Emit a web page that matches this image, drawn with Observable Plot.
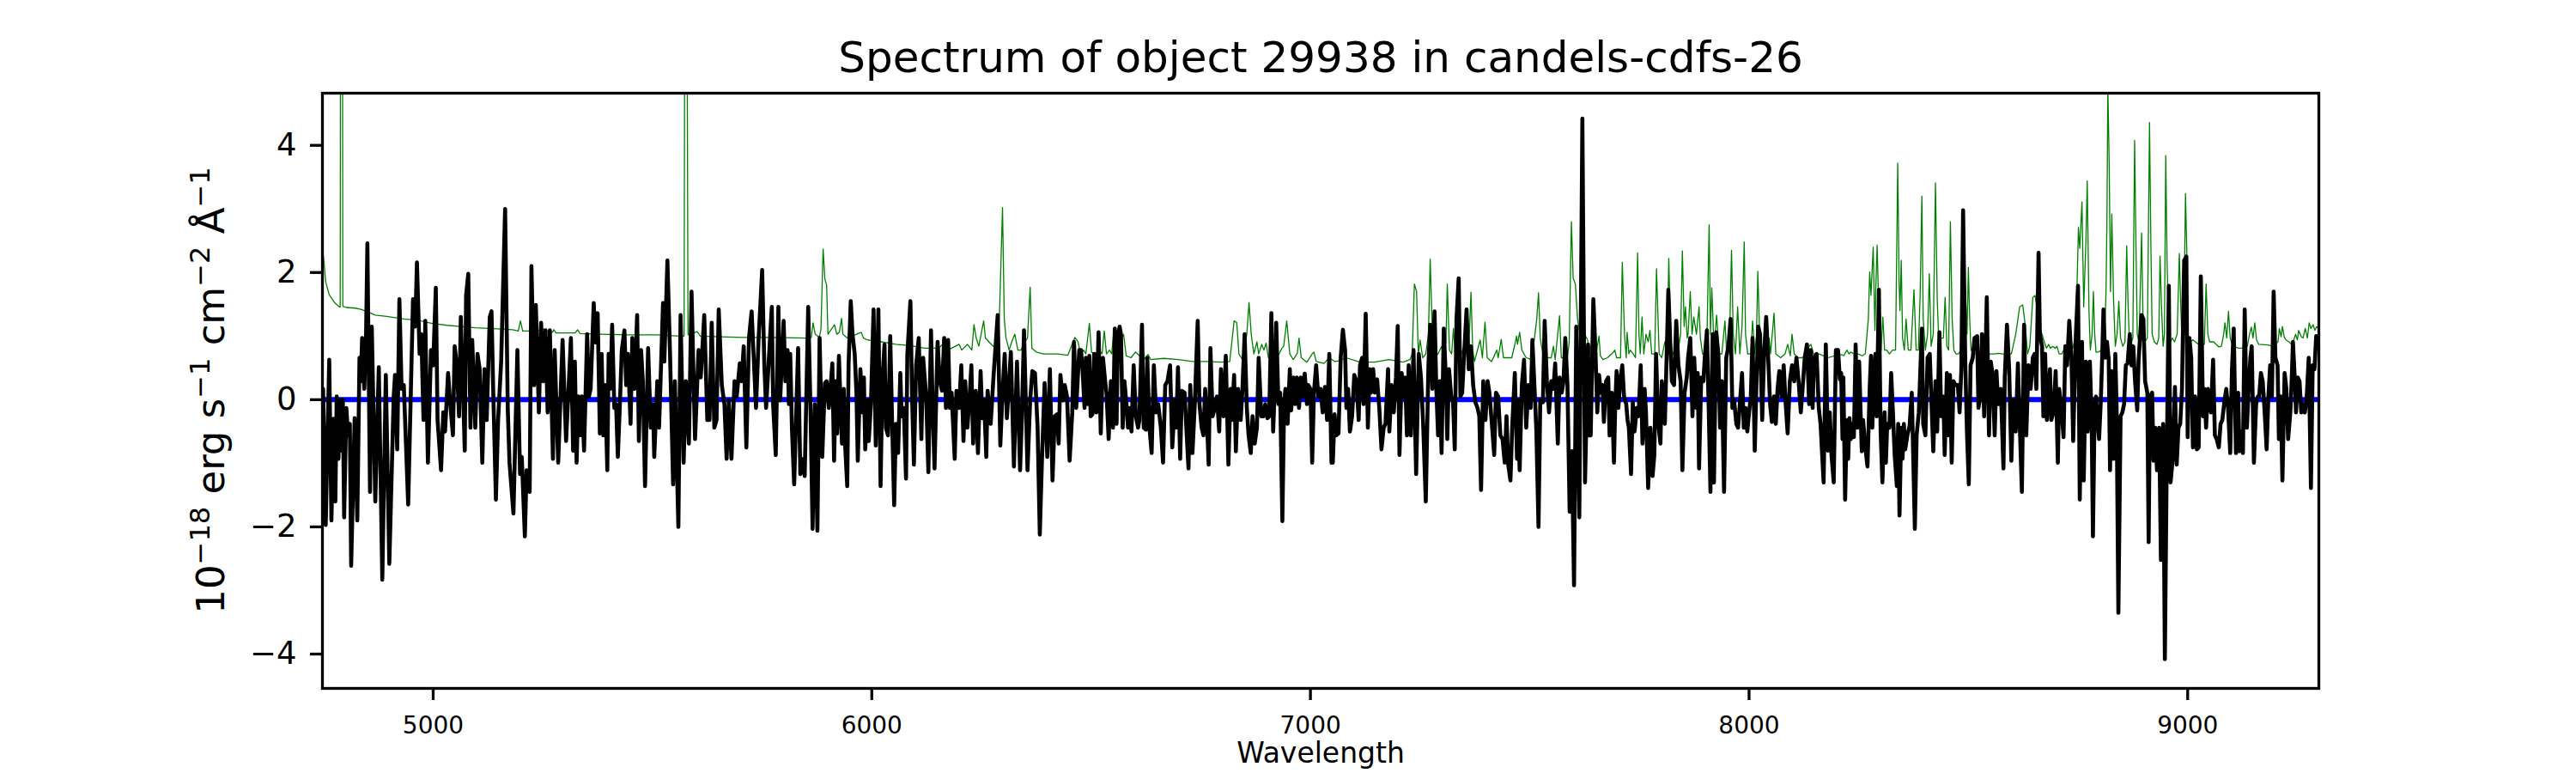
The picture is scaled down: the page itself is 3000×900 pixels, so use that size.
<!DOCTYPE html>
<html><head><meta charset="utf-8">
<script src="https://cdn.jsdelivr.net/npm/d3@7"></script>
<script src="https://cdn.jsdelivr.net/npm/@observablehq/plot@0.6"></script>
<style>body{margin:0;background:#fff} svg{font-family:"DejaVu Sans"}</style>
</head><body><div id="chart"></div>
<script>
const titleText = "Spectrum of object 29938 in candels-cdfs-26";
const xLabel = "Wavelength";
const xTicks = [5000, 6000, 7000, 8000, 9000];
const yTicks = [-4, -2, 0, 2, 4];
const xRange = [4747.5, 9299];
const yRange = [-4.54, 4.82];
const zeroLevel = 0;

// object spectrum: [wavelength (Å), flux (1e-18 erg/s/cm2/Å)]
const objectFlux = [
[4748,-1.0],[4749,0.17],[4755,-1.97],[4763,0.63],[4768,-1.9],[4773,-0.3],[4777,-1.6],[4780,0.05],[4784,-0.93],[4788,0.0],[4792,-0.8],[4794,0.0],[4797,-1.85],[4802,-0.13],[4806,-0.56],[4810,-0.38],[4813,-2.61],[4821,-0.29],[4827,-1.9],[4832,0.66],[4835,0.29],[4838,0.97],[4843,0.17],[4847,1.03],[4850,2.46],[4856,-1.45],[4860,1.15],[4868,-1.6],[4876,0.51],[4884,-2.83],[4892,0.39],[4900,-2.58],[4910,0.05],[4913,0.39],[4918,-0.78],[4923,1.58],[4928,0.17],[4933,0.23],[4943,-1.65],[4954,1.58],[4959,1.15],[4963,2.16],[4969,0.72],[4973,1.03],[4978,-0.32],[4982,1.24],[4988,-0.99],[4995,0.78],[5000,0.54],[5006,1.76],[5010,-0.32],[5018,-1.11],[5023,-0.2],[5027,-0.5],[5034,0.42],[5039,-0.07],[5045,-0.56],[5049,0.84],[5054,0.54],[5059,-0.26],[5063,1.3],[5068,0.17],[5072,-0.8],[5075,1.64],[5080,1.98],[5085,-0.44],[5089,0.94],[5096,-0.44],[5101,0.72],[5106,0.48],[5112,-0.99],[5117,0.48],[5122,-0.32],[5129,1.3],[5133,1.39],[5137,0.11],[5143,-1.57],[5148,-0.32],[5155,0.6],[5164,3.0],[5170,-0.13],[5174,-0.99],[5183,-1.79],[5192,0.78],[5198,-1.17],[5202,-0.9],[5209,-2.15],[5213,-1.11],[5220,-1.45],[5224,2.1],[5230,0.23],[5234,1.49],[5241,-0.2],[5246,1.21],[5251,0.29],[5256,1.09],[5261,-0.2],[5266,1.09],[5273,-0.93],[5277,0.78],[5285,-0.99],[5295,0.94],[5303,-0.65],[5314,0.97],[5319,-0.8],
[5323,0.6],[5327,-0.99],[5331,0.05],[5335,-0.56],[5339,0.05],[5344,-0.8],[5351,1.03],[5355,0.05],[5359,0.17],[5366,1.52],[5370,0.9],[5375,1.36],[5380,-0.53],[5384,0.72],[5388,-0.56],[5392,0.23],[5397,-1.11],[5400,0.72],[5404,0.17],[5408,1.18],[5413,-0.13],[5417,-0.07],[5421,-0.9],[5426,-0.01],[5430,0.78],[5436,1.09],[5440,0.23],[5444,0.72],[5450,-0.38],[5454,0.97],[5459,0.17],[5465,1.33],[5469,-0.65],[5474,0.78],[5478,0.29],[5483,-1.36],[5490,0.81],[5496,-0.44],[5501,-0.07],[5504,-0.9],[5511,0.29],[5515,-0.44],[5524,1.52],[5527,0.6],[5534,2.19],[5540,0.72],[5547,-1.33],[5551,0.29],[5559,-2.0],[5564,1.33],[5571,-0.99],[5576,0.29],[5583,-0.69],[5589,1.7],[5597,-0.62],[5605,0.78],[5610,0.35],[5618,1.33],[5625,-0.32],[5630,-0.32],[5635,1.21],[5641,-0.44],[5646,-0.32],[5651,1.42],[5658,0.23],[5664,-0.07],[5669,-0.93],[5674,-0.01],[5680,-0.93],[5687,0.29],[5692,0.05],[5699,0.57],[5703,0.29],[5708,0.84],[5714,-0.75],[5720,0.97],[5726,1.39],[5736,-0.13],[5742,0.97],[5750,2.04],[5755,0.54],[5759,-0.13],[5772,1.46],[5775,-0.07],[5781,-0.87],[5787,1.46],[5791,-0.01],[5799,1.24],[5803,0.29],[5808,0.78],[5811,-0.07],[5814,0.72],[5818,-0.47],[5823,-1.33],[5832,0.81],[5837,-1.17],[5840,-0.93],[5847,-1.2],[5855,1.46],[5860,-0.07],[5865,-2.03],[5870,-0.07],[5876,-2.06],[5881,0.97],[5887,-0.9],[5893,0.26],
[5897,0.29],[5902,-0.13],[5905,0.11],[5910,0.57],[5914,-0.96],[5918,0.29],[5921,-0.53],[5925,0.69],[5929,-0.13],[5932,-0.69],[5936,0.17],[5939,-0.69],[5944,-1.36],[5947,0.54],[5952,1.55],[5956,1.03],[5961,0.72],[5965,0.11],[5968,-0.96],[5974,0.48],[5979,-0.2],[5982,0.35],[5985,-0.78],[5990,-0.01],[5993,-0.65],[5998,-0.07],[6004,1.42],[6009,-0.72],[6015,1.42],[6020,-1.36],[6024,0.29],[6029,0.87],[6032,-0.44],[6037,-0.56],[6042,1.0],[6046,-0.26],[6051,-1.66],[6055,-0.38],[6060,-0.84],[6065,0.42],[6068,-0.26],[6073,-0.13],[6078,-1.24],[6081,0.72],[6088,1.55],[6092,-0.01],[6096,-1.02],[6101,0.54],[6107,0.97],[6113,-0.62],[6117,0.66],[6124,0.05],[6129,-1.14],[6135,1.09],[6139,-0.2],[6143,-1.08],[6150,0.91],[6155,0.29],[6160,0.14],[6165,0.97],[6169,-0.13],[6174,0.94],[6178,-0.13],[6182,0.11],[6189,-0.93],[6193,0.14],[6199,-0.13],[6204,0.54],[6209,-0.65],[6213,0.29],[6218,-0.44],[6223,0.05],[6227,0.54],[6231,-0.69],[6237,0.14],[6242,-0.84],[6248,0.45],[6252,-0.29],[6256,-0.01],[6261,-0.9],[6264,0.14],[6271,-0.38],[6278,0.42],[6287,1.33],[6293,-0.72],[6298,0.11],[6303,0.72],[6308,-0.29],[6313,0.29],[6317,0.75],[6324,-1.05],[6331,0.6],[6338,-1.11],[6342,-0.32],[6347,1.09],[6355,-1.11],[6361,-0.01],[6366,0.45],[6372,0.42],[6378,-0.44],[6383,-2.12],[6388,-0.93],[6394,0.26],[6400,-0.9],[6406,0.48],[6412,-1.27],[6417,-0.26],[6422,-0.23],[6426,-0.69],[6430,0.39],[6436,-0.01],[6440,0.23],[6445,0.05],[6451,-0.96],[6457,-0.2],[6461,0.91],[6466,-0.13],[6473,0.78],
[6477,0.78],[6481,0.41],[6485,-0.13],[6488,0.66],[6493,-0.07],[6496,0.69],[6499,-0.26],[6503,-0.23],[6507,0.72],[6512,-0.2],[6517,1.06],[6522,-0.53],[6527,0.66],[6532,0.29],[6535,0.11],[6540,-0.62],[6545,0.29],[6550,-0.44],[6554,1.12],[6558,-0.38],[6561,0.99],[6565,1.15],[6568,1.03],[6572,-0.44],[6576,0.29],[6581,-0.1],[6584,-0.44],[6587,-0.13],[6592,-0.5],[6597,0.54],[6602,-0.26],[6607,-0.44],[6610,-0.32],[6616,1.18],[6620,-0.44],[6625,-0.47],[6628,0.66],[6633,-0.44],[6638,-0.84],[6643,0.54],[6648,-0.2],[6653,-0.07],[6659,-0.44],[6664,-0.99],[6669,0.23],[6674,0.29],[6680,0.54],[6685,-0.75],[6691,-0.01],[6694,-0.44],[6698,0.51],[6703,-0.93],[6707,0.14],[6713,0.11],[6718,-0.56],[6722,-1.08],[6726,0.23],[6731,-0.84],[6736,-0.13],[6743,1.24],[6747,-0.07],[6752,-0.44],[6756,-0.56],[6760,0.17],[6764,-0.32],[6768,-1.02],[6772,0.81],[6777,-0.26],[6782,-0.13],[6787,0.05],[6792,-0.5],[6796,0.48],[6802,-0.26],[6807,0.69],[6813,-1.02],[6818,0.17],[6821,-0.32],[6826,0.39],[6830,-0.81],[6835,0.17],[6841,-0.32],[6845,0.17],[6850,1.03],[6855,-0.13],[6859,-0.56],[6864,-0.84],[6868,-0.26],[6873,-0.69],[6878,-0.44],[6882,0.66],[6888,-0.26],[6893,-0.26],[6897,-0.07],[6902,-0.29],[6906,-0.26],[6911,1.36],[6915,-0.5],[6918,0.05],[6922,1.21],[6927,-0.07],[6931,0.11],[6936,-1.91],[6940,-0.07],[6943,0.17],[6948,-0.38],[6953,0.48],[6956,-0.17],[6961,0.35],[6965,-0.07],[6969,0.35],[6974,-0.13],[6978,0.35],[6982,0.05],[6987,0.41],[6992,-0.07],[6995,0.23],[7000,0.17],[7004,-0.99],[7008,0.11],[7013,0.54],[7018,0.05],[7023,0.17],[7028,-0.2],[7033,0.2],[7038,-0.32],[7043,0.72],[7048,-0.99],
[7051,-0.99],[7055,-0.23],[7059,-0.56],[7064,-0.53],[7069,0.66],[7074,1.1],[7079,0.78],[7082,-0.13],[7086,0.17],[7090,-0.5],[7095,-0.26],[7100,0.39],[7105,0.29],[7110,-0.32],[7113,0.54],[7118,0.66],[7121,-0.07],[7126,1.35],[7131,-0.44],[7135,0.48],[7138,0.11],[7143,0.48],[7147,0.11],[7152,0.32],[7157,-0.13],[7162,-0.78],[7167,-0.44],[7171,-0.38],[7177,0.48],[7180,-0.5],[7185,0.23],[7190,-0.2],[7195,0.35],[7199,1.16],[7203,-0.87],[7208,0.42],[7212,0.05],[7216,0.35],[7220,-0.56],[7224,0.54],[7229,-0.56],[7235,0.78],[7241,-1.17],[7247,0.72],[7252,0.35],[7257,-0.38],[7263,-1.6],[7269,0.54],[7273,1.18],[7278,0.17],[7283,1.39],[7287,0.17],[7291,-0.56],[7295,0.29],[7299,-0.84],[7304,1.12],[7309,0.29],[7312,-0.62],[7316,0.48],[7321,0.05],[7325,-0.01],[7329,-0.78],[7333,1.27],[7338,1.91],[7342,0.05],[7346,0.11],[7350,0.66],[7356,1.42],[7361,0.48],[7366,0.84],[7371,0.23],[7376,-0.04],[7381,-0.13],[7385,-0.26],[7389,-1.42],[7394,0.29],[7399,-0.32],[7404,0.29],[7408,0.11],[7413,-0.32],[7419,-0.87],[7423,0.11],[7428,0.05],[7433,-0.56],[7438,-0.62],[7443,-0.99],[7447,-0.26],[7451,-1.02],[7456,-1.27],[7460,-0.44],[7466,0.42],[7471,-0.93],[7473,-0.01],[7477,-1.11],[7482,0.23],[7487,0.63],[7492,-0.44],[7497,0.23],[7502,-0.13],[7506,0.94],[7511,0.17],[7515,-0.47],[7520,-2.0],[7524,-0.01],[7530,-0.04],[7534,1.24],[7539,0.29],[7544,-0.2],[7549,0.29],[7554,0.17],[7558,0.57],[7564,-0.69],[7568,0.35],[7573,0.11],[7577,0.29],[7581,0.97],[7586,0.23],[7591,-1.76],[7596,-0.81],[7601,-2.92],[7606,1.15],[7613,-1.85],[7620,4.42],[7626,-1.3],
[7633,0.87],[7635,-0.56],[7639,-0.56],[7645,1.58],[7650,0.72],[7654,-0.2],[7658,0.39],[7662,0.11],[7666,0.23],[7669,-0.35],[7674,0.29],[7679,0.35],[7682,-0.56],[7687,0.11],[7692,-0.99],[7695,-0.07],[7698,0.45],[7702,-0.13],[7707,0.35],[7711,0.54],[7715,0.05],[7720,-0.07],[7723,-0.32],[7726,-0.44],[7731,-1.17],[7735,-0.04],[7739,-0.5],[7744,-0.13],[7748,-0.26],[7753,0.54],[7757,-0.69],[7762,0.17],[7765,-0.2],[7770,-1.39],[7775,-0.44],[7780,-1.2],[7784,-0.87],[7788,0.72],[7793,-0.38],[7798,-0.69],[7801,0.29],[7808,-0.38],[7812,0.66],[7816,1.73],[7821,0.78],[7824,0.29],[7829,0.23],[7834,1.24],[7839,0.54],[7844,0.29],[7848,-1.11],[7853,0.11],[7858,0.35],[7861,0.66],[7866,0.97],[7871,-0.26],[7875,0.66],[7880,-0.13],[7883,0.42],[7886,-1.08],[7891,0.35],[7896,0.29],[7899,0.66],[7904,1.09],[7908,-0.13],[7912,-1.45],[7917,1.03],[7920,-1.3],[7925,1.06],[7930,0.72],[7934,-0.44],[7938,0.29],[7943,-1.45],[7948,0.66],[7953,0.84],[7958,1.27],[7962,-0.13],[7966,-0.01],[7971,-0.38],[7975,-0.44],[7979,-0.07],[7984,0.42],[7988,-0.44],[7992,-0.13],[7996,-0.5],[8000,-0.2],[8004,0.05],[8008,0.97],[8013,-0.8],[8017,0.29],[8021,1.15],[8025,1.03],[8030,-0.32],[8034,0.66],[8039,1.3],[8044,0.6],[8048,-0.07],[8052,-0.35],[8057,0.05],[8061,-0.38],[8065,0.17],[8069,0.45],[8074,0.05],[8079,0.54],[8083,-0.01],[8088,-0.53],[8093,0.29],[8098,0.54],[8103,0.29],[8108,0.66],[8113,0.29],[8118,-0.2],[8122,0.17],[8127,0.66],[8132,0.87],[8137,-0.07],[8141,0.78],[8145,-0.13],[8148,0.66],[8154,0.72],[8159,-0.13],[8163,-0.38],[8170,-1.3],[8175,0.87],[8180,-0.8],[8184,-0.2],[8188,-0.87],[8193,-1.3],[8198,0.78],[8203,0.78],[8207,0.32],
[8210,0.42],[8213,-0.62],[8215,0.35],[8219,-1.57],[8223,-0.32],[8226,-0.93],[8229,-0.29],[8232,-0.62],[8236,-0.38],[8239,-0.59],[8243,0.87],[8247,-0.44],[8251,0.6],[8254,-0.13],[8257,-0.81],[8260,-0.32],[8265,-0.75],[8270,-1.05],[8275,0.17],[8278,0.69],[8281,-0.44],[8285,0.42],[8288,0.72],[8291,-0.26],[8296,1.73],[8300,-0.5],[8304,-1.3],[8309,-0.2],[8312,-0.99],[8315,-0.38],[8320,-0.44],[8324,0.42],[8328,-0.2],[8332,-0.87],[8337,-1.36],[8340,-0.38],[8343,-1.82],[8347,-0.44],[8350,-0.93],[8353,-0.38],[8356,-0.78],[8361,-0.56],[8366,-0.41],[8371,0.11],[8378,-2.03],[8382,-0.56],[8387,-0.2],[8394,1.12],[8397,-0.38],[8402,-0.56],[8407,0.66],[8412,0.72],[8416,-0.07],[8420,-0.81],[8425,0.29],[8429,-0.5],[8434,1.06],[8438,-0.26],[8443,0.05],[8446,-0.87],[8451,0.42],[8454,-0.56],[8458,0.39],[8462,-0.99],[8466,0.29],[8471,0.23],[8476,0.23],[8480,-0.2],[8484,0.48],[8488,2.98],[8493,0.57],[8497,-0.56],[8501,-1.33],[8505,0.54],[8510,0.66],[8514,0.97],[8520,1.0],[8523,-0.13],[8527,0.05],[8531,1.03],[8536,-0.26],[8542,1.61],[8547,-0.56],[8551,0.6],[8555,0.42],[8560,-0.56],[8564,0.45],[8568,-0.07],[8574,0.17],[8580,-1.08],[8583,0.35],[8588,1.18],[8593,0.48],[8598,-0.96],[8602,-0.01],[8608,-0.5],[8613,0.57],[8616,-0.13],[8622,-1.45],[8627,1.18],[8632,-0.56],[8637,0.54],[8642,0.17],[8647,0.66],[8651,0.72],[8655,0.17],[8660,2.31],[8663,1.03],[8668,0.84],[8671,-0.26],[8675,0.72],[8679,-0.32],[8686,0.48],[8689,-0.32],[8694,-0.2],[8699,0.45],[8704,-0.99],[8707,0.17],[8712,-0.13],[8717,-0.59],[8721,0.84],[8725,0.54],[8730,1.24],[8735,0.66],[8739,-0.65],[8745,1.0],[8750,1.79],[8754,-1.57],[8759,0.91],[8763,-1.27],[8768,0.6],[8772,-0.5],[8777,0.6],[8781,-0.29],[8784,-2.15],[8788,-0.07],
[8791,0.05],[8795,-0.38],[8798,-0.62],[8802,-0.01],[8805,0.66],[8808,1.42],[8812,0.66],[8816,0.91],[8820,0.63],[8823,-1.11],[8826,0.45],[8831,-0.93],[8835,0.72],[8838,-0.13],[8842,-3.35],[8847,-0.26],[8851,-0.2],[8855,-0.07],[8859,0.54],[8863,0.57],[8868,1.03],[8872,0.54],[8876,0.84],[8880,0.29],[8885,-0.17],[8888,0.6],[8891,0.94],[8895,1.33],[8899,1.27],[8903,0.29],[8908,0.11],[8911,-2.24],[8914,0.05],[8919,0.11],[8922,-0.96],[8926,-0.44],[8930,-1.11],[8935,-0.44],[8939,-2.52],[8944,-0.38],[8948,-4.08],[8952,-1.17],[8957,1.79],[8961,-1.3],[8966,-0.93],[8971,0.2],[8975,-1.02],[8979,-0.44],[8983,-0.38],[8987,0.17],[8992,2.19],[8997,2.25],[9000,-0.59],[9004,0.97],[9008,0.66],[9012,-0.75],[9017,0.05],[9021,-0.78],[9025,-0.75],[9030,1.94],[9035,-0.26],[9038,0.17],[9042,-0.44],[9046,0.17],[9050,-0.07],[9053,-0.2],[9058,0.63],[9062,-0.56],[9066,-0.62],[9071,-0.75],[9075,-0.38],[9079,-0.32],[9084,-0.01],[9088,0.17],[9092,-0.13],[9097,-0.84],[9101,0.48],[9105,1.12],[9110,-0.84],[9115,0.11],[9118,-0.81],[9123,-0.5],[9126,-0.84],[9130,1.42],[9135,-0.44],[9139,0.17],[9143,0.66],[9146,0.84],[9151,-0.99],[9156,-0.07],[9160,0.05],[9163,0.05],[9167,0.42],[9171,0.29],[9175,-0.13],[9180,-0.78],[9184,0.05],[9188,0.54],[9192,0.05],[9196,1.7],[9200,0.66],[9205,0.54],[9208,-0.62],[9212,0.05],[9216,-1.27],[9221,0.42],[9225,0.17],[9229,-0.62],[9234,-0.2],[9237,0.29],[9240,0.91],[9244,0.35],[9247,-0.2],[9251,0.35],[9255,0.29],[9259,-0.2],[9263,-0.07],[9267,-0.2],[9271,-0.01],[9276,0.66],[9281,-1.39],[9285,0.54],[9289,0.48],[9293,1.0],[9298,0.97],[9299,0.9]
];

// noise / sky spectrum: [wavelength (Å), value]
const skyNoise = [
[4748,2.3],[4750,2.25],[4755,1.85],[4763,1.65],[4776,1.52],[4786,1.46],[4788,1.46],[4789,8],[4793,8],[4794,1.47],[4802,1.45],[4822,1.44],[4835,1.42],[4851,1.38],[4868,1.33],[4894,1.31],[4933,1.27],[4965,1.25],[4998,1.2],[5031,1.17],[5063,1.15],[5096,1.13],[5129,1.12],[5181,1.1],[5194,1.08],[5199,1.24],[5204,1.08],[5233,1.08],[5253,1.11],[5259,1.08],[5272,1.06],[5275,1.1],[5280,1.05],[5324,1.05],[5329,1.1],[5335,1.04],[5380,1.03],[5445,1.02],[5511,1.02],[5563,1.0],[5572,1.0],[5574,8],[5578,8],[5581,1.02],[5602,1.07],[5609,1.0],[5654,0.99],[5707,0.98],[5772,0.98],[5850,0.97],[5862,0.98],[5866,1.21],[5871,1.03],[5880,0.98],[5884,1.1],[5889,2.37],[5893,1.9],[5897,1.8],[5900,1.03],[5915,1.18],[5920,1.03],[5926,1.06],[5931,1.28],[5934,1.03],[5944,0.97],[5976,1.06],[5981,0.97],[5990,0.94],[6022,0.91],[6055,0.87],[6088,0.85],[6120,0.81],[6153,0.81],[6166,0.91],[6179,0.8],[6199,0.87],[6205,0.78],[6218,0.87],[6228,0.78],[6233,1.18],[6238,0.97],[6244,0.84],[6255,1.24],[6259,0.97],[6267,0.91],[6277,0.84],[6287,0.81],[6291,1.33],[6298,3.02],[6302,1.27],[6306,0.97],[6313,0.78],[6319,0.91],[6326,1.03],[6333,0.78],[6340,0.78],[6349,0.91],[6355,0.97],[6361,1.77],[6365,0.81],[6375,0.75],[6391,0.72],[6424,0.72],[6447,0.7],[6463,0.98],[6470,0.91],[6476,0.72],
[6483,0.78],[6488,0.72],[6496,1.2],[6501,0.75],[6509,0.72],[6519,0.78],[6525,0.72],[6530,1.08],[6535,0.72],[6542,0.78],[6547,0.72],[6552,1.12],[6556,0.84],[6565,0.87],[6574,1.03],[6580,0.69],[6591,0.66],[6601,0.75],[6620,0.63],[6630,0.71],[6636,0.63],[6666,0.65],[6698,0.63],[6731,0.6],[6764,0.6],[6796,0.59],[6816,0.6],[6826,1.24],[6832,1.21],[6837,0.72],[6845,0.63],[6855,1.03],[6860,1.53],[6865,1.03],[6871,0.72],[6878,0.91],[6882,0.72],[6889,0.87],[6894,0.78],[6899,0.89],[6904,0.66],[6914,0.63],[6924,0.66],[6935,0.81],[6939,0.84],[6946,1.24],[6953,0.72],[6961,0.63],[6970,0.73],[6974,0.97],[6979,0.66],[6992,0.59],[7004,0.72],[7008,0.75],[7013,0.6],[7031,0.57],[7043,0.66],[7056,0.6],
[7064,0.61],[7081,0.66],[7113,0.59],[7146,0.59],[7179,0.63],[7211,0.59],[7227,0.63],[7232,0.72],[7237,1.82],[7242,1.7],[7246,0.72],[7250,0.94],[7256,0.66],[7263,0.72],[7269,1.03],[7273,2.21],[7278,1.03],[7282,0.66],[7291,0.72],[7299,0.84],[7304,0.72],[7309,0.91],[7312,1.82],[7317,0.78],[7322,0.72],[7326,1.12],[7330,0.72],[7335,0.78],[7340,0.97],[7345,0.72],[7353,0.91],[7357,1.42],[7361,0.78],[7366,1.69],[7370,0.78],[7374,0.6],[7387,0.94],[7392,0.66],[7398,1.22],[7403,0.66],[7413,0.6],[7425,0.78],[7428,0.66],[7435,0.95],[7440,0.66],[7459,0.66],[7466,0.87],[7470,1.0],[7472,0.87],[7477,1.06],[7482,0.78],[7492,0.66],[7505,0.63],[7516,1.27],[7520,1.68],[7524,0.97],[7531,0.66],[7549,0.66],[7554,0.84],[7558,0.63],[7568,1.32],[7572,0.66],[7586,0.66],[7590,0.91],[7595,2.8],[7599,1.91],[7604,1.82],[7609,1.27],[7614,1.03],[7625,1.03],
[7632,0.94],[7635,0.72],[7639,0.84],[7645,0.78],[7651,0.72],[7658,1.0],[7661,0.69],[7667,0.63],[7677,0.66],[7687,0.72],[7694,0.78],[7698,0.66],[7707,0.66],[7711,2.16],[7716,1.03],[7720,0.66],[7722,1.06],[7726,0.72],[7729,0.78],[7736,0.72],[7741,0.66],[7746,2.31],[7749,1.03],[7752,0.72],[7756,1.3],[7760,0.72],[7765,1.03],[7770,0.91],[7774,1.09],[7778,0.72],[7785,0.72],[7789,2.06],[7795,0.72],[7801,0.66],[7808,0.91],[7813,0.72],[7817,2.22],[7821,1.03],[7824,0.78],[7831,0.66],[7837,0.72],[7844,1.03],[7848,2.34],[7852,1.15],[7855,1.46],[7859,0.97],[7861,1.03],[7866,1.7],[7870,1.03],[7874,1.3],[7880,1.03],[7886,1.46],[7889,0.97],[7894,0.72],[7899,0.72],[7904,0.97],[7909,2.75],[7912,1.03],[7915,1.76],[7919,1.03],[7922,0.97],[7926,1.33],[7932,0.72],[7938,0.72],[7945,1.24],[7949,0.72],[7955,0.78],[7960,2.35],[7964,1.03],[7969,0.72],[7974,1.46],[7979,0.72],[7984,1.15],[7989,2.48],[7992,1.03],[7997,0.72],[8004,0.72],[8008,1.24],[8013,0.72],[8017,1.03],[8020,2.02],[8024,1.03],[8030,0.72],[8035,1.03],[8041,0.72],[8046,0.97],[8049,0.72],[8057,1.36],[8061,0.72],[8072,0.66],[8082,0.72],[8088,0.87],[8094,0.69],[8098,1.03],[8103,0.72],[8111,0.66],[8121,0.66],[8131,0.72],[8137,0.84],[8141,0.87],[8147,0.72],[8160,0.72],[8180,0.66],[8199,0.7],
[8211,0.71],[8216,0.69],[8223,0.78],[8228,0.72],[8232,0.75],[8239,0.72],[8249,0.72],[8258,0.69],[8265,0.72],[8272,1.27],[8275,2.01],[8278,1.64],[8283,2.4],[8287,1.09],[8289,1.76],[8292,2.43],[8296,1.33],[8301,0.78],[8305,1.3],[8309,0.78],[8314,0.78],[8320,0.72],[8327,0.78],[8334,0.78],[8339,3.72],[8342,1.88],[8344,1.4],[8347,2.19],[8350,0.97],[8354,0.78],[8358,1.27],[8363,0.78],[8369,0.78],[8376,1.73],[8381,0.78],[8386,0.78],[8390,1.64],[8394,3.2],[8397,1.27],[8402,0.78],[8407,1.03],[8411,1.98],[8415,0.84],[8420,1.03],[8425,3.41],[8429,1.58],[8433,0.84],[8438,0.97],[8443,0.97],[8447,1.61],[8451,0.84],[8455,0.78],[8459,2.8],[8463,1.27],[8467,0.78],[8472,0.72],[8477,0.72],[8484,0.78],[8489,0.91],[8493,1.76],[8497,1.03],[8500,2.08],[8503,1.27],[8506,0.78],[8513,0.72],[8520,0.72],[8526,0.66],[8533,1.03],[8536,0.72],[8542,0.66],[8549,0.72],[8559,0.72],[8568,0.73],[8578,0.72],[8588,0.72],[8598,0.72],[8608,1.03],[8617,1.46],[8624,1.49],[8630,1.15],[8635,0.72],[8640,0.84],[8647,1.61],[8652,1.64],[8657,1.4],[8663,1.12],[8668,1.03],[8673,0.91],[8678,0.81],[8683,0.87],[8687,0.81],[8692,0.84],[8698,0.81],[8702,0.84],[8707,0.72],[8713,0.72],[8722,0.84],[8728,0.78],[8735,0.72],[8745,1.03],[8751,2.71],[8754,2.38],[8759,3.11],[8763,1.46],[8768,2.5],[8771,3.44],[8775,1.39],
[8778,0.78],[8782,1.03],[8785,1.7],[8788,1.03],[8791,0.75],[8797,0.75],[8803,0.78],[8810,0.78],[8814,1.76],[8816,2.86],[8818,4.9],[8821,3.72],[8824,1.7],[8827,2.92],[8831,1.58],[8835,0.84],[8839,1.03],[8843,1.55],[8847,0.97],[8852,0.84],[8857,0.91],[8861,2.42],[8864,1.52],[8867,0.94],[8872,0.91],[8875,0.97],[8879,4.08],[8882,2.5],[8885,1.03],[8889,0.91],[8895,2.62],[8898,1.34],[8902,0.91],[8908,0.97],[8913,4.36],[8916,2.5],[8919,1.03],[8924,0.91],[8930,0.87],[8934,0.97],[8937,2.26],[8940,1.52],[8944,0.84],[8947,1.03],[8950,3.84],[8953,2.19],[8957,1.03],[8961,0.91],[8965,0.97],[8970,0.91],[8976,1.03],[8981,2.3],[8984,1.52],[8987,0.91],[8991,1.09],[8995,3.24],[8998,2.32],[9001,0.97],[9006,0.91],[9012,0.94],[9025,0.87],[9038,0.87],[9042,1.82],[9046,1.03],[9050,0.91],[9059,0.91],[9071,0.83],[9077,0.84],[9082,1.03],[9085,1.21],[9089,0.97],[9093,1.39],[9097,0.97],[9103,0.84],[9116,0.81],[9126,0.81],[9136,0.84],[9141,1.03],[9145,1.14],[9149,0.97],[9153,1.21],[9157,0.94],[9162,0.87],[9182,0.86],[9195,0.84],[9206,0.91],[9209,1.12],[9213,0.99],[9216,1.15],[9220,0.99],[9224,0.94],[9231,0.91],[9237,0.87],[9242,0.94],[9246,1.03],[9250,0.94],[9253,1.09],[9259,0.99],[9263,0.97],[9268,1.12],[9273,0.97],[9277,1.21],[9281,1.12],[9286,1.18],[9290,1.09],[9294,1.15],[9299,1.12]
];

const minusFmt = d => d < 0 ? "\u2212" + Math.abs(d) : String(d);

const chart = Plot.plot({
  width: 3000,
  height: 900,
  marginLeft: 375,
  marginRight: 300,
  marginTop: 108,
  marginBottom: 99,
  style: {fontFamily: "DejaVu Sans", background: "#fff", color: "#000", overflow: "visible"},
  x: {domain: xRange},
  y: {domain: yRange},
  marks: [
    Plot.line(skyNoise, {x: d => d[0], y: d => d[1], stroke: "#008000", strokeWidth: 1.3, clip: true}),
    Plot.ruleY([zeroLevel], {stroke: "#0000ff", strokeWidth: 6}),
    Plot.line(objectFlux, {x: d => d[0], y: d => d[1], stroke: "#000000", strokeWidth: 4.6, clip: true}),
    Plot.frame({stroke: "#000", strokeWidth: 3.3}),
    Plot.axisX({ticks: xTicks, tickFormat: d => String(d), tickSize: 14, tickPadding: 19, fontSize: 28, strokeWidth: 3.3, label: null}),
    Plot.axisY({ticks: yTicks, tickFormat: minusFmt, tickSize: 14, tickPadding: 16, fontSize: 37, strokeWidth: 3.3, label: null}),
    Plot.text([titleText], {frameAnchor: "top", lineAnchor: "bottom", dy: -25, fontSize: 50, fill: "#000"}),
    Plot.text([xLabel], {frameAnchor: "bottom", lineAnchor: "bottom", dy: 86, fontSize: 33, fill: "#000"})
  ]
});
document.getElementById("chart").appendChild(chart);

// y-axis label with superscripts (matplotlib mathtext style)
const yLabelParts = [["10", false], ["\u221218", true], [" erg s", false], ["\u22121", true], [" cm", false], ["\u22122", true], [" \u00C5", false], ["\u22121", true]];
const svg = d3.select(chart);
const cy = (108 + 801) / 2;
const lab = svg.append("text")
  .attr("transform", `translate(261,${cy}) rotate(-90)`)
  .attr("text-anchor", "middle")
  .attr("font-family", "DejaVu Sans")
  .attr("font-size", 45)
  .attr("fill", "#000");
let raised = false;
for (const [t, sup] of yLabelParts) {
  const ts = lab.append("tspan").text(t);
  if (sup && !raised) { ts.attr("dy", -17).attr("font-size", 32); raised = true; }
  else if (sup) { ts.attr("font-size", 32); }
  else if (!sup && raised) { ts.attr("dy", 17); raised = false; }
}
</script>
</body></html>
